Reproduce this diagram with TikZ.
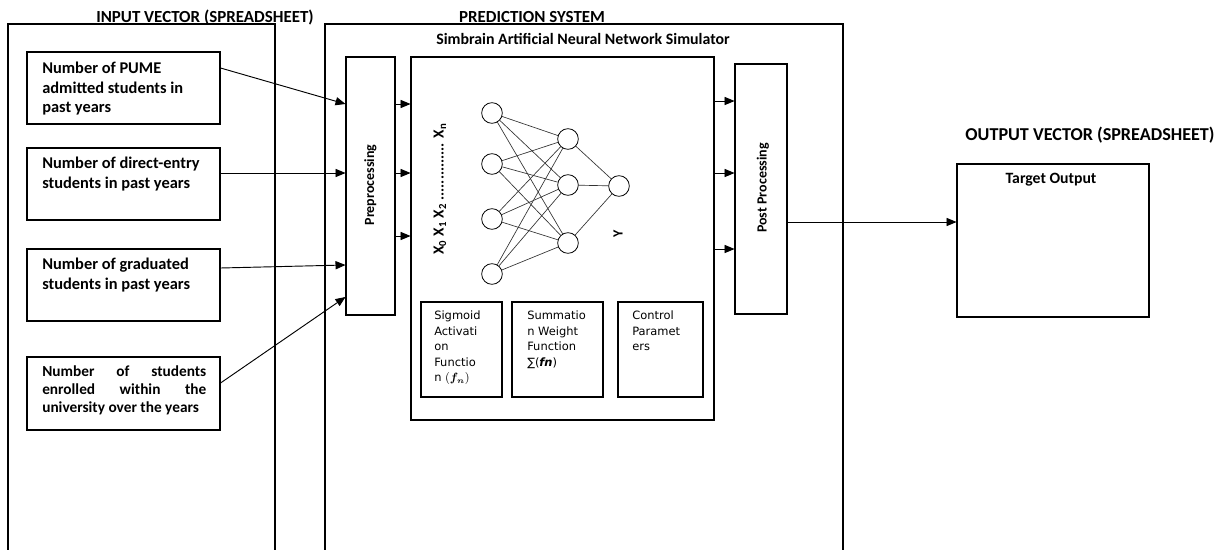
\documentclass[tikz,border=0pt]{standalone}
\usepackage{amsmath}
\usepackage{fontspec}
\setmainfont{Carlito}
\newfontfamily\subfont{DejaVu Sans}
\usetikzlibrary{arrows}

\begin{document}
\begin{tikzpicture}[x=0.75pt,y=-0.75pt]

\tikzset{box/.style = {shape=rectangle,draw,line width=0.8pt,inner sep=0pt}}
\tikzset{inbox/.style = {box,minimum width=144.75pt,minimum height=54pt}}
\tikzset{subbox/.style = {box,minimum height=71.25pt}}
\tikzset{intext/.style = {anchor=north west,inner sep=0pt,align=left,font=\fontsize{12.3}{14.6}\selectfont\bfseries}}
\tikzset{subtext/.style = {anchor=north west,inner sep=0pt,align=left,font=\subfont\fontsize{8.6}{11.6}\selectfont}}
\tikzset{title/.style = {inner sep=0pt,font=\fontsize{12.7}{14}\selectfont\bfseries}}
\tikzset{sidetext/.style = {inner sep=0pt,rotate=90,font=\fontsize{10.5}{12}\selectfont\bfseries}}
\tikzset{neuron/.style = {shape=circle,draw,line width=0.6pt,minimum size=15.5pt,inner sep=0pt}}
\tikzset{edge/.style = {draw=black!80,line width=0.5pt}}
\tikzset{arrow/.style = {-triangle 45,line width=0.7pt}}

\useasboundingbox (0,0) rectangle (1225,550);

% frames
\draw[line width=0.8pt] (8,550) -- (8,24) -- (275,24) -- (275,550);
\draw[line width=0.8pt] (325,550) -- (325,24) -- (843,24) -- (843,550);
\node[title] (tin) at (205,17) {INPUT VECTOR (SPREADSHEET)};
\node[title] (tpred) at (532,17) {PREDICTION SYSTEM};
\node[title,font=\fontsize{13.6}{15}\selectfont\bfseries] (tout) at (1090,135) {OUTPUT VECTOR (SPREADSHEET)};
\node[title,font=\fontsize{11.9}{13}\selectfont\bfseries] (tsim) at (583,39) {Simbrain Artificial Neural Network Simulator};

% input vector
\node[inbox] (in1) at (123.5,88) {};
\node[inbox] (in2) at (123.5,184) {};
\node[inbox] (in3) at (123.5,285) {};
\node[inbox,minimum height=54.75pt] (in4) at (123.5,393.5) {};
\node[intext] (l1) at (42,62) {Number of PUME\\admitted students in\\past years};
\node[intext] (l2) at (42,157) {Number of direct-entry\\students in past years};
\node[intext] (l3) at (42,258) {Number of graduated\\students in past years};
\node[intext,font=\fontsize{11.5}{13.5}\selectfont\bfseries] (l4) at (42,365)
  {\makebox[123pt][s]{Number of students}\\\makebox[123pt][s]{enrolled within the}\\university over the years};

% prediction system
\node[box,minimum width=36.75pt,minimum height=193.5pt] (pre) at (370.5,186) {};
\node[sidetext] (prel) at (370.5,185) {Preprocessing};
\node[box,minimum width=227.25pt,minimum height=272.25pt] (nn) at (562.5,238.5) {};
\node[box,minimum width=39pt,minimum height=187.5pt] (post) at (761,189) {};
\node[sidetext] (postl) at (763,188) {Post Processing};
\node[sidetext,font=\fontsize{11.5}{13}\selectfont\bfseries] (xs) at (440,189)
  {X\textsubscript{0} X\textsubscript{1} X\textsubscript{2} .............. X\textsubscript{n}};
\node[sidetext] (y) at (618,234) {Y};

\node[subbox,minimum width=60.75pt] (sig) at (461.5,349.5) {};
\node[subbox,minimum width=68.25pt] (sum) at (557.5,349.5) {};
\node[subbox,minimum width=63.75pt] (ctl) at (660.5,349.5) {};
\node[subtext] (sigl) at (434,311) {Sigmoid\\Activati\\on\\Functio\\n $(\boldsymbol{f_n})$};
\node[subtext] (suml) at (527,311) {Summatio\\n Weight\\Function\\∑(\textbf{\textit{fn}})};
\node[subtext] (ctll) at (632,311) {Control\\Paramet\\ers};

% output vector
\node[box,minimum width=144pt,minimum height=114.75pt] (out) at (1053,240.5) {};
\node[title,font=\fontsize{11.8}{13}\selectfont\bfseries] (outl) at (1051,180) {Target Output};

% vertices
\node[neuron] (i1) at (492,113) {};
\node[neuron] (i2) at (492,164) {};
\node[neuron] (i3) at (492,219) {};
\node[neuron] (i4) at (492,274) {};
\node[neuron] (h1) at (568,139) {};
\node[neuron] (h2) at (568,185) {};
\node[neuron] (h3) at (568,243) {};
\node[neuron] (o1) at (619,186) {};

%edges
\draw[edge] (i1) to (h1);
\draw[edge] (i1) to (h2);
\draw[edge] (i1) to (h3);
\draw[edge] (i2) to (h1);
\draw[edge] (i2) to (h2);
\draw[edge] (i2) to (h3);
\draw[edge] (i3) to (h1);
\draw[edge] (i3) to (h2);
\draw[edge] (i3) to (h3);
\draw[edge] (i4) to (h1);
\draw[edge] (i4) to (h2);
\draw[edge] (i4) to (h3);
\draw[edge] (h1) to (o1);
\draw[edge] (h2) to (o1);
\draw[edge] (h3) to (o1);

% arrows
\draw[arrow] ([yshift=15pt]in1.east) -- ([yshift=61.5pt]pre.west);
\draw[arrow] ([yshift=8.25pt]in2.east) -- ([yshift=9.75pt]pre.west);
\draw[arrow] ([yshift=12.75pt]in3.east) -- ([yshift=-59.25pt]pre.west);
\draw[arrow] ([yshift=7.875pt]in4.east) -- ([yshift=-83.25pt]pre.west);
\draw[arrow] ([yshift=61.5pt]pre.east) -- ([yshift=100.875pt]nn.west);
\draw[arrow] ([yshift=9.75pt]pre.east) -- ([yshift=49.125pt]nn.west);
\draw[arrow] ([yshift=-37.5pt]pre.east) -- ([yshift=1.875pt]nn.west);
\draw[arrow] ([yshift=103.125pt]nn.east) -- ([yshift=66pt]post.west);
\draw[arrow] ([yshift=49.125pt]nn.east) -- ([yshift=12pt]post.west);
\draw[arrow] ([yshift=-7.875pt]nn.east) -- ([yshift=-45pt]post.west);
\draw[arrow] ([yshift=-24.75pt]post.east) -- ([yshift=13.875pt]out.west);
\end{tikzpicture}
\end{document}
